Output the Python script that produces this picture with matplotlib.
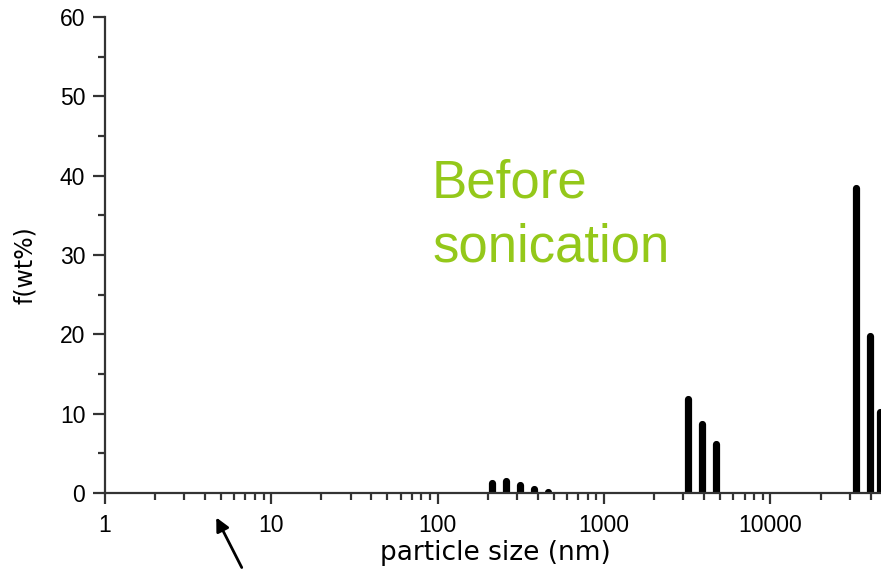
import numpy as np
import matplotlib.pyplot as plt
from matplotlib.patches import FancyArrowPatch
from matplotlib.ticker import LogLocator, FixedLocator, NullFormatter

# particle size bins (nm) and weight fraction (wt%)
sizes = [212, 257, 312, 379, 460,
         3200, 3900, 4730,
         32500, 39400, 45700]
fractions = [1.3, 1.5, 1.0, 0.45, 0.1,
             11.9, 8.7, 6.2,
             38.5, 19.8, 10.2]

x_ticks = [1, 10, 100, 1000, 10000]
x_tick_labels = ['1', '10', '100', '1000', '10000']
y_ticks = [0, 10, 20, 30, 40, 50, 60]

fig = plt.figure(figsize=(8.81, 5.70), dpi=100)
ax = fig.add_axes([104.7 / 881, 77 / 570, 1 - 104.7 / 881, 476 / 570])

ax.vlines(sizes, 0, fractions, colors='black', linewidth=5.2, capstyle='round')

ax.set_xscale('log')
ax.set_xlim(1, 10 ** (4 + (881 - 770.7) / 166))
ax.set_ylim(0, 60)

ax.xaxis.set_major_locator(FixedLocator(x_ticks))
ax.set_xticklabels(x_tick_labels)
ax.xaxis.set_minor_locator(LogLocator(base=10, subs=np.arange(2, 10)))
ax.xaxis.set_minor_formatter(NullFormatter())
ax.set_yticks(y_ticks)
ax.set_yticks([5, 15, 25, 35, 45, 55], minor=True)

for side in ['top', 'right']:
    ax.spines[side].set_visible(False)
for side in ['left', 'bottom']:
    ax.spines[side].set_linewidth(1.6)
    ax.spines[side].set_color('#333333')

ax.tick_params(which='major', direction='out', length=9, width=1.6, color='#333333', pad=5)
ax.tick_params(which='minor', direction='out', length=5, width=1.6, color='#333333')
ax.tick_params(axis='x', which='major', length=8, pad=7)
for lbl in ax.get_xticklabels() + ax.get_yticklabels():
    lbl.set_family('Liberation Sans')
    lbl.set_fontsize(16.5)

ax.set_xlabel('particle size (nm)', fontsize=19, family='DejaVu Sans')
ax.set_ylabel('f(wt%)', fontsize=17, family='DejaVu Sans')
ax.xaxis.set_label_coords(0.503, -0.126)
ax.yaxis.set_label_coords(-0.103, 0.479)
ax.xaxis.label.set_va('center')
ax.yaxis.label.set_va('center')

green = '#94c81a'
fig.text(432 / 881, 1 - 197 / 570, 'Before', color=green,
         fontsize=38, family='Liberation Sans', va='baseline', ha='left')
fig.text(432 / 881, 1 - 262 / 570, 'sonication', color=green,
         fontsize=38, family='Liberation Sans', va='baseline', ha='left')

fig.patches.append(FancyArrowPatch(
    (243 / 881, 0.0), (215 / 881, 1 - 515 / 570),
    transform=fig.transFigure, arrowstyle='-|>', mutation_scale=20,
    color='black', linewidth=2))

fig.savefig('out.png', dpi=100)
